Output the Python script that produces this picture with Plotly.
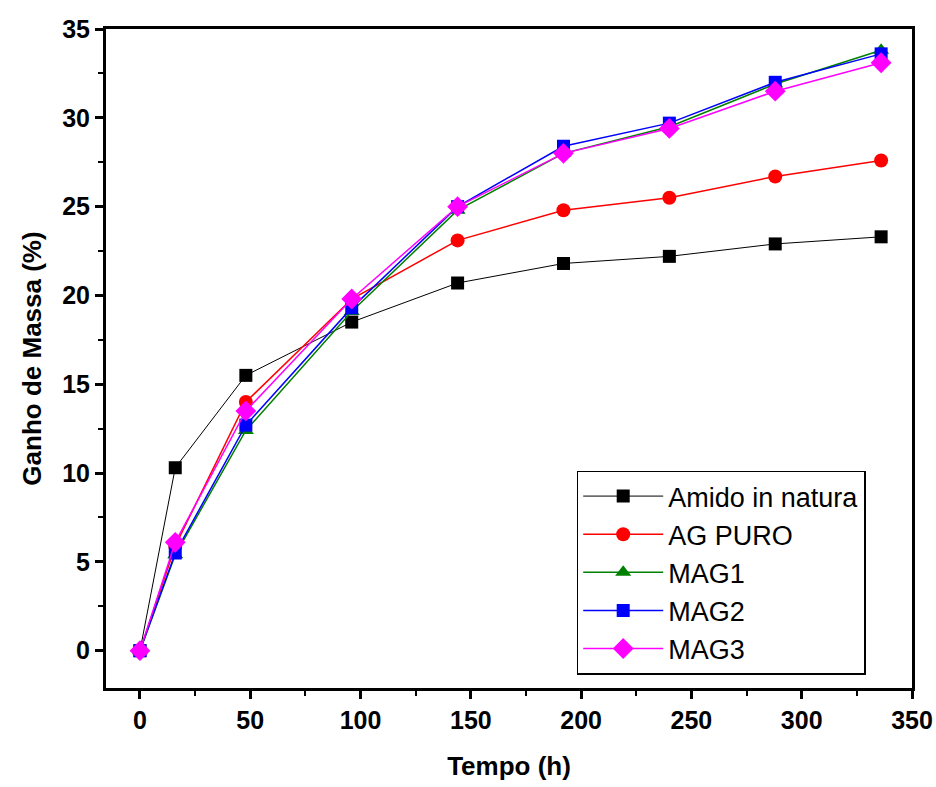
import plotly.graph_objects as go

tempo = [0, 16, 48, 96, 144, 192, 240, 288, 336]
amido = [0, 10.3, 15.5, 18.5, 20.7, 21.8, 22.2, 22.9, 23.3]
ag_puro = [0, 5.9, 14.0, 19.8, 23.1, 24.8, 25.5, 26.7, 27.6]
mag1 = [0, 5.4, 12.4, 19.1, 24.8, 28.0, 29.5, 31.9, 33.8]
mag2 = [0, 5.5, 12.7, 19.3, 25.0, 28.4, 29.7, 32.0, 33.6]
mag3 = [0, 6.1, 13.5, 19.8, 25.0, 28.0, 29.4, 31.5, 33.1]

series = [
    ("Amido in natura", amido, "black", "square", 1, 13),
    ("AG PURO", ag_puro, "red", "circle", 1.5, 14),
    ("MAG1", mag1, "green", "triangle-up", 1.5, 14),
    ("MAG2", mag2, "blue", "square", 1.5, 13),
    ("MAG3", mag3, "magenta", "diamond", 1.5, 16),
]

fig = go.Figure()
for name, ys, col, sym, lw, ms in series:
    fig.add_trace(go.Scatter(
        x=tempo, y=ys, name=name, mode="lines+markers",
        line=dict(color=col, width=lw),
        marker=dict(symbol=sym, size=ms, color=col, line=dict(width=0)),
    ))

FONT = "Arial, Liberation Sans"
axis_common = dict(
    showline=True, linecolor="black", linewidth=3, mirror=True,
    ticks="outside", ticklen=8, tickwidth=2.5, tickcolor="black",
    showgrid=False, zeroline=False, automargin=False,
    tickfont=dict(family=FONT, size=25, color="black", weight="bold"),
    minor=dict(ticks="outside", ticklen=5, tickwidth=2, tickcolor="black"),
)

fig.update_xaxes(
    range=[-15.4, 350], tickvals=[0, 50, 100, 150, 200, 250, 300, 350],
    minor_dtick=25, minor_tick0=0,
    title=dict(text="Tempo (h)", font=dict(family=FONT, size=26, color="black", weight="bold"), standoff=24),
    **axis_common,
)
fig.update_yaxes(
    range=[-2.1, 35], tickvals=[0, 5, 10, 15, 20, 25, 30, 35],
    minor_dtick=2.5, minor_tick0=0,
    title=dict(text="Ganho de Massa (%)", font=dict(family=FONT, size=26, color="black", weight="bold"), standoff=14),
    **axis_common,
)

fig.update_layout(
    width=936, height=787,
    margin=dict(l=106, r=24, t=29, b=99),
    plot_bgcolor="white", paper_bgcolor="white",
    legend=dict(
        x=0.584, y=0.33, xanchor="left", yanchor="top",
        bgcolor="white", bordercolor="black", borderwidth=1.5,
        font=dict(family=FONT, size=27, color="black"),
        itemwidth=80, tracegroupgap=0,
    ),
)

fig.write_html("out.html")
